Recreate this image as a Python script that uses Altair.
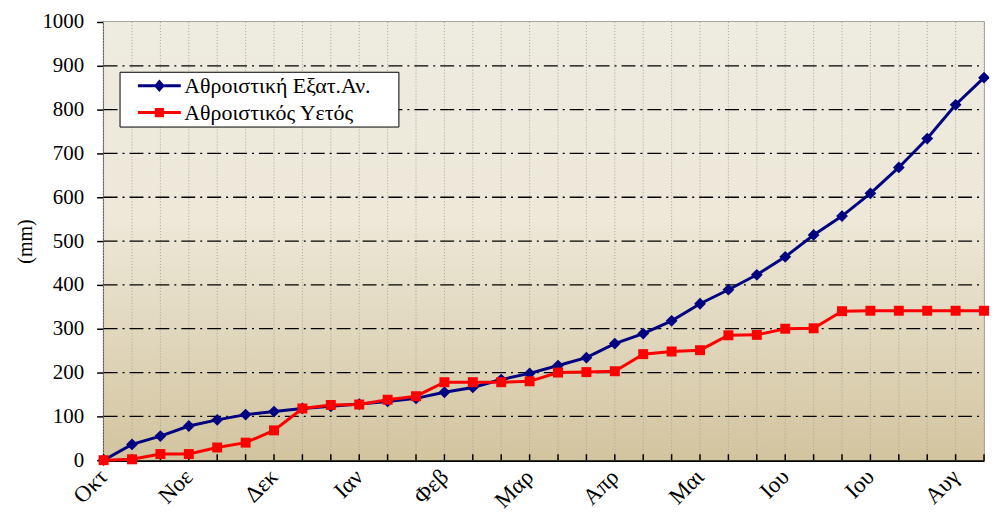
import json
import altair as alt
import pandas as pd

# ---- data ----
idx = list(range(32))
evap = [0, 36, 55, 78, 92, 104, 111, 118, 123, 128, 134, 141, 155, 166, 184, 198,
        216, 234, 266, 289, 318, 357, 389, 423, 464, 514, 557, 609, 668, 734, 811, 873]
rain = [0, 2, 14, 14, 29, 40, 68, 118, 126, 127, 138, 146, 178, 178, 178, 180,
        200, 201, 203, 242, 248, 251, 285, 286, 300, 301, 340, 341, 341, 341, 341, 341]
months = ["Οκτ", "Νοε", "Δεκ", "Ιαν", "Φεβ", "Μαρ", "Απρ", "Μαι", "Ιου", "Ιου", "Αυγ"]
series_names = ["Αθροιστική Εξατ.Αν.", "Αθροιστικός Υετός"]
colors = ["#000080", "#FF0000"]
y_ticks = list(range(0, 1001, 100))

df = pd.DataFrame({
    "idx": idx + idx,
    "value": evap + rain,
    "series": [series_names[0]] * len(idx) + [series_names[1]] * len(idx),
})
ticks_df = pd.DataFrame({"idx": idx})
hgrid_df = pd.DataFrame({"value": y_ticks[1:-1]})

W, H = 884, 440
FONT = "Liberation Serif"
label_expr = "datum.value % 3 == 0 ? " + json.dumps(months, ensure_ascii=False) + "[datum.value / 3] : ''"

color_scale = alt.Scale(domain=series_names, range=colors)
x_scale = alt.Scale(domain=[0, 31], nice=False, zero=False)
y_scale = alt.Scale(domain=[0, 1000], nice=False)

x_axis = alt.Axis(values=idx, labelExpr=label_expr, grid=False)
y_axis = alt.Axis(values=y_ticks, format="d", grid=False)
x_enc = alt.X("idx:Q", scale=x_scale, axis=x_axis, title=None)
y_enc = alt.Y("value:Q", scale=y_scale, axis=y_axis, title="(mm)")

gradient = alt.LinearGradient(
    gradient="linear", x1=0, x2=0, y1=0, y2=1,
    stops=[alt.GradientStop(color="#EEEBE0", offset=0),
           alt.GradientStop(color="#EDE8D8", offset=0.45),
           alt.GradientStop(color="#D3C49F", offset=1)],
)

background = alt.Chart(pd.DataFrame({"k": [0]})).mark_rect(fill=gradient).encode(
    x=alt.value(0), x2=alt.value(W), y=alt.value(0), y2=alt.value(H))

vgrid = alt.Chart(ticks_df).mark_rule(color="#a9a495", strokeDash=[1, 2], strokeWidth=1).encode(
    x=x_enc, y=alt.value(0), y2=alt.value(H))

hgrid = alt.Chart(hgrid_df).mark_rule(color="black", strokeDash=[14, 5, 2, 5], strokeWidth=1.3).encode(
    y=y_enc, x=alt.value(0), x2=alt.value(W))

# inward tick marks at every decade along the bottom axis
ticks = alt.Chart(ticks_df).mark_rule(color="black", strokeWidth=1.5).encode(
    x=x_enc, y=alt.value(H), y2=alt.value(H - 6))

base = alt.Chart(df)

def series_layers(name, shape, size):
    d = base.transform_filter(alt.datum.series == name)
    line = d.mark_line(strokeWidth=3).encode(
        x=x_enc, y=y_enc, color=alt.Color("series:N", scale=color_scale, legend=None))
    pts = d.mark_point(shape=shape, filled=True, size=size, opacity=1).encode(
        x=x_enc, y=y_enc, color=alt.Color("series:N", scale=color_scale, legend=None))
    return [line, pts]

diamond_path = "M-4,-0.28H4V0.28H-4Z M0,-1.15L1,0L0,1.15L-1,0Z"
square_path = "M-4,-0.28H4V0.28H-4Z M-0.85,-0.85H0.85V0.85H-0.85Z"

legend_kw = dict(
    orient="none", legendX=16, legendY=50,
    title=".", titleOrient="right", titleColor="white", titleFontSize=1, titlePadding=24,
    fillColor="white", strokeColor="black", padding=3,
    symbolSize=116, symbolOffset=26, symbolStrokeWidth=0, symbolOpacity=1,
    labelOffset=14, labelFont=FONT, labelFontSize=22, labelColor="black",
    labelLimit=400, rowPadding=5,
)

legend_layer = base.transform_filter("datum.idx < 0").mark_point(filled=True).encode(
    x=x_enc, y=y_enc,
    color=alt.Color("series:N", scale=color_scale, legend=alt.Legend(**legend_kw)),
    shape=alt.Shape("series:N",
                    scale=alt.Scale(domain=series_names, range=[diamond_path, square_path]),
                    legend=alt.Legend(**legend_kw)),
)

layers = [background, vgrid, hgrid, ticks, legend_layer] \
    + series_layers(series_names[0], "diamond", 140) \
    + series_layers(series_names[1], "square", 100)

chart = alt.layer(*layers).properties(
    width=W, height=H,
    autosize=alt.AutoSizeParams(type="none"),
    padding={"left": 96, "top": 13, "right": 5, "bottom": 52},
).configure_view(
    stroke="#8c8c8c", strokeWidth=1.5
).configure_axis(
    labelFont=FONT, labelColor="black",
    domainColor="black", tickColor="black",
    titleFont=FONT, titleFontSize=20, titleFontWeight="normal", titleColor="black",
).configure_axisX(
    labelFontSize=23, labelAngle=315, labelAlign="right", labelBaseline="top",
    labelPadding=5, labelOffset=-8, labelOverlap=False, labelBound=False, labelFlush=False,
    tickSize=0, domainWidth=2.5,
).configure_axisY(
    labelFontSize=21, labelPadding=13, tickSize=7, tickWidth=1.5, domainWidth=2, titlePadding=6,
)

chart.save("out.html", embed_options={"renderer": "svg", "actions": False})
